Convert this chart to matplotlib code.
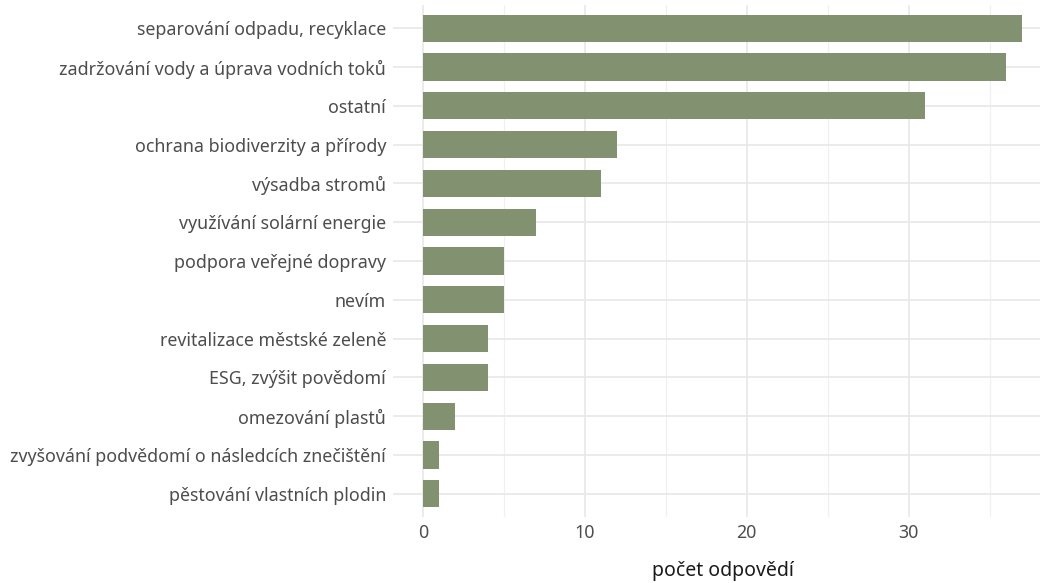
import matplotlib
matplotlib.use("Agg")
import matplotlib.pyplot as plt
from matplotlib.ticker import MultipleLocator

# data, top to bottom as in the chart
categories = [
    "separování odpadu, recyklace",
    "zadržování vody a úprava vodních toků",
    "ostatní",
    "ochrana biodiverzity a přírody",
    "výsadba stromů",
    "využívání solární energie",
    "podpora veřejné dopravy",
    "nevím",
    "revitalizace městské zeleně",
    "ESG, zvýšit povědomí",
    "omezování plastů",
    "zvyšování podvědomí o následcích znečištění",
    "pěstování vlastních plodin",
]
counts = [37, 36, 31, 12, 11, 7, 5, 5, 4, 4, 2, 1, 1]
xticks = [0, 10, 20, 30]

plt.rcParams["font.family"] = ["Noto Sans", "DejaVu Sans"]

W, H = 1040, 583
fig = plt.figure(figsize=(W / 100, H / 100), dpi=100)
# panel in pixels: left 393, right 1052, top 5, bottom 517
ax = fig.add_axes([393 / W, 1 - 517 / H, (1052 - 393) / W, (517 - 5) / H])

n = len(categories)
ypos = list(range(n))
ax.barh(ypos, counts, height=0.7, color="#829270", zorder=3)

ax.set_ylim(n - 1 + 0.6, -0.6)
ax.set_xlim(-1.85, 38.85)
ax.set_yticks(ypos)
ax.set_yticklabels(categories)
ax.set_xticks(xticks)
ax.xaxis.set_minor_locator(MultipleLocator(5))

ax.grid(True, which="major", color="#e8e8e8", linewidth=1.2, zorder=0)
ax.grid(True, which="minor", axis="x", color="#f0f0f0", linewidth=0.9, zorder=0)
for s in ax.spines.values():
    s.set_visible(False)
ax.tick_params(which="both", length=0)
ax.tick_params(axis="y", labelsize=12.8, labelcolor="#4d4d4d", pad=5)
ax.tick_params(axis="x", labelsize=12.8, labelcolor="#4d4d4d", pad=5)
ax.set_xlabel("počet odpovědí", fontsize=14, color="#1a1a1a", labelpad=14)

fig.savefig("out.png", dpi=100)
